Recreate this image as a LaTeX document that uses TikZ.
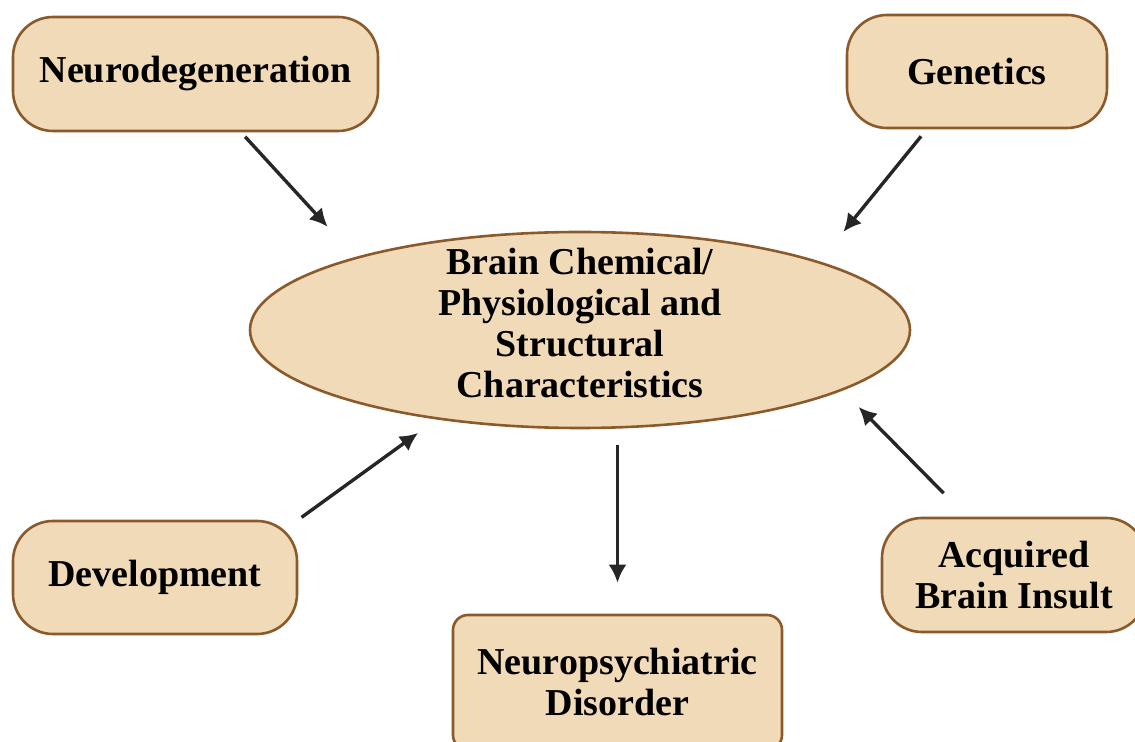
\documentclass[tikz,border=0pt]{standalone}
\usepackage{fontspec}
\setmainfont{Liberation Serif}
\usepackage{xcolor}
\usepackage{tikz}
\usetikzlibrary{arrows.meta,shapes.geometric,calc}
\definecolor{tanfill}{RGB}{241,218,184}
\definecolor{tanline}{RGB}{139,90,43}
\tikzstyle{factor}=[draw=tanline,fill=tanfill,line width=1.3pt,rounded corners=20pt,align=center,inner sep=0pt,font=\bfseries\fontsize{19}{20.5}\selectfont]
\tikzstyle{outcome}=[factor,rounded corners=7.5pt]
\tikzstyle{core}=[ellipse,draw=tanline,fill=tanfill,line width=1.3pt,inner sep=0pt,minimum width=330pt,minimum height=98pt,font=\bfseries\fontsize{19}{20.5}\selectfont]
\tikzstyle{edge}=[draw,line width=1.7pt,black!85,-{Latex[length=9pt,width=9pt]}]

\begin{document}
\begin{tikzpicture}[x=0.5pt,y=-0.5pt]
    \useasboundingbox (0,0) rectangle (1135,742);

    % causes around the centre
    \node[factor,minimum width=182.5pt,minimum height=57pt] (neuro) at (195.5,74) {Neurodegeneration};
    \node[factor,minimum width=130pt,minimum height=56.5pt] (genetics) at (977,71.5) {Genetics};
    \node[factor,minimum width=142pt,minimum height=56.5pt] (develop) at (155,577.5) {Development};
    \node[factor,minimum width=132pt,minimum height=57pt] (insult) at (1014,575) {Acquired\\Brain Insult};

    % centre and result
    \node[core] (brain) at (580,330) {\smash{\raisebox{-3pt}{\begin{tabular}{@{}c@{}}Brain Chemical/\\Physiological and\\Structural\\Characteristics\end{tabular}}}};
    \node[outcome,minimum width=164.5pt,minimum height=67.5pt] (disorder) at (617.5,682.5) {Neuropsychiatric\\Disorder};

    % arrows
    \path[edge,shorten <=3pt,shorten >=20.5pt] (neuro.-52) -- (brain.162);
    \path[edge,shorten <=4.5pt,shorten >=19pt] (genetics.-131) -- (brain.16.4);
    \path[edge,shorten <=2pt,shorten >=11.5pt] (develop.north east) -- (brain.-148.3);
    \path[edge,shorten <=16.5pt,shorten >=11.5pt] (insult.129.8) -- (brain.-13.7);
    \path[edge,shorten <=8pt,shorten >=15.5pt] (brain.south -| disorder.north) -- (disorder.north);
\end{tikzpicture}
\end{document}
